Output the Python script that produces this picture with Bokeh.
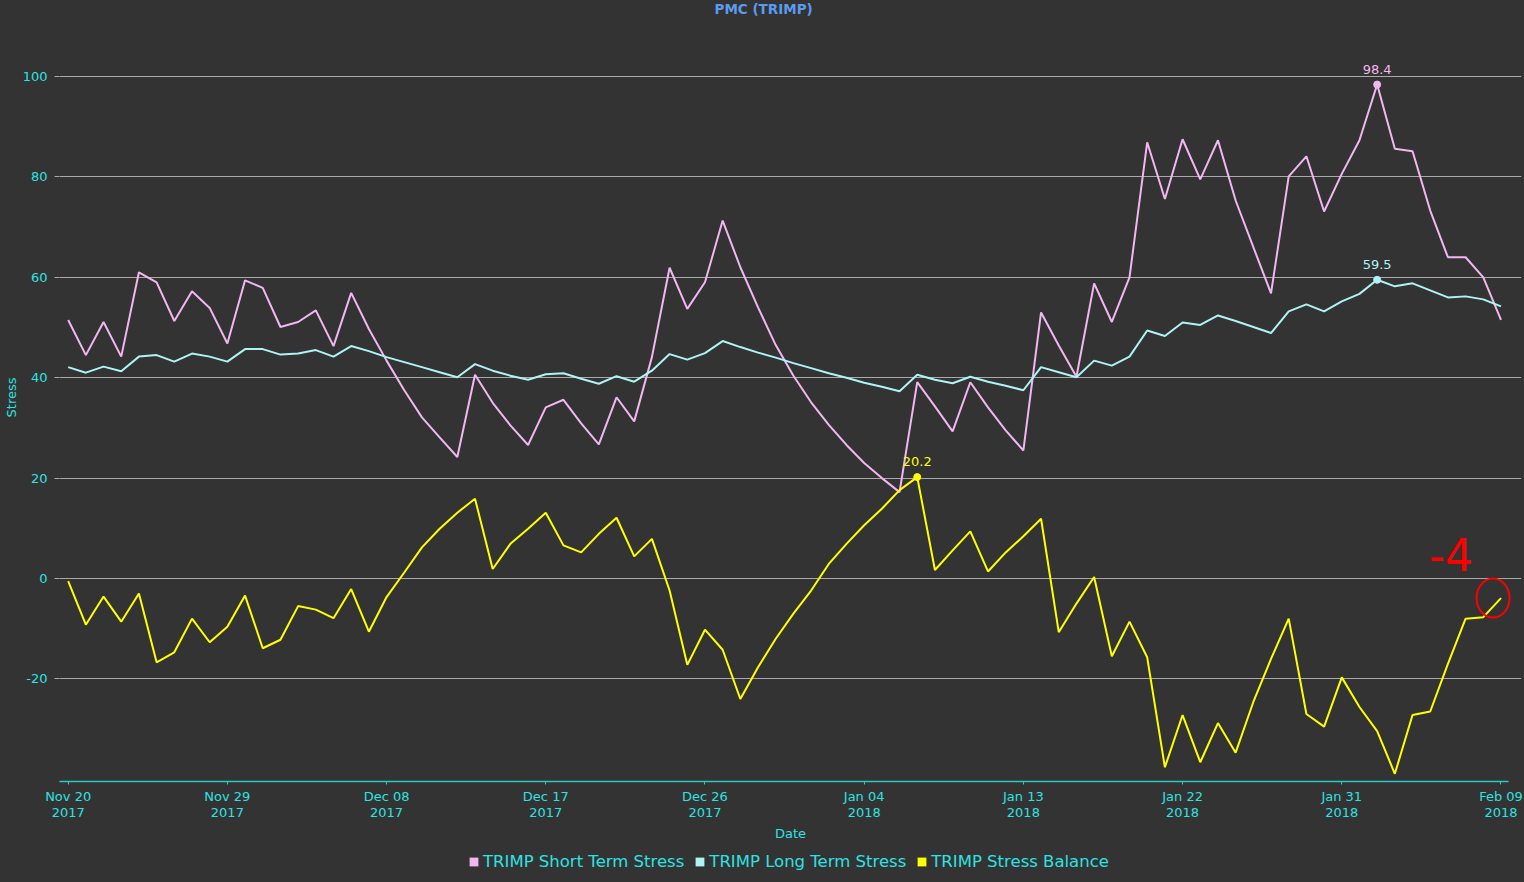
from datetime import datetime, timedelta

from bokeh.plotting import figure
from bokeh.layouts import column
from bokeh.models import (ColumnDataSource, FixedTicker, DatetimeTickFormatter,
                          PrintfTickFormatter, Range1d, Legend, LegendItem)
from bokeh.core.properties import value
from bokeh.embed import file_html
from bokeh.resources import INLINE

# ---------------- data ----------------
title_text = "PMC (TRIMP)"
x_label = "Date"
y_label = "Stress"
series_names = ["TRIMP Short Term Stress", "TRIMP Long Term Stress", "TRIMP Stress Balance"]
start_date = datetime(2017, 11, 20)

short_term = [51.5, 44.5, 51.1, 44.2, 61.0, 59.0, 51.3, 57.2, 53.9, 46.8,
              59.4, 57.9, 50.1, 51.1, 53.4, 46.3, 56.9, 49.7, 43.4, 37.5,
              32.1, 28.1, 24.2, 40.6, 35.0, 30.5, 26.6, 34.1, 35.6, 30.9,
              26.7, 36.1, 31.3, 44.1, 61.9, 53.7, 59.0, 71.3, 62.0, 54.0,
              46.5, 40.4, 35.1, 30.6, 26.6, 23.0, 20.0, 17.2, 39.1, 34.3,
              29.3, 39.1, 34.1, 29.5, 25.5, 53.0, 46.4, 40.2, 58.8, 51.1,
              60.0, 86.9, 75.6, 87.5, 79.5, 87.3, 75.3, 66.0, 56.8, 80.1,
              84.1, 73.1, 80.6, 87.3, 98.4, 85.6, 85.1, 73.3, 64.0, 64.0,
              60.0, 51.5]

long_term = [42.1, 41.0, 42.2, 41.3, 44.2, 44.5, 43.2, 44.8, 44.2, 43.2,
             45.7, 45.7, 44.6, 44.8, 45.5, 44.2, 46.3, 45.3, 44.1, 43.1,
             42.1, 41.1, 40.1, 42.7, 41.4, 40.4, 39.6, 40.7, 40.9, 39.8,
             38.8, 40.3, 39.2, 41.4, 44.7, 43.6, 44.9, 47.3, 46.1, 45.0,
             44.0, 42.9, 41.9, 40.9, 40.0, 39.0, 38.2, 37.3, 40.6, 39.6,
             38.9, 40.2, 39.2, 38.4, 37.5, 42.1, 41.1, 40.1, 43.4, 42.4,
             44.2, 49.4, 48.3, 51.0, 50.5, 52.4, 51.3, 50.1, 48.9, 53.2,
             54.6, 53.2, 55.2, 56.7, 59.5, 58.2, 58.8, 57.4, 56.0, 56.2,
             55.6, 54.2]

balance = [-0.5, -9.2, -3.6, -8.6, -3.0, -16.7, -14.7, -8.0, -12.7, -9.6,
           -3.4, -13.9, -12.2, -5.5, -6.2, -7.9, -2.1, -10.6, -3.7, 1.2,
           6.2, 9.9, 13.1, 15.9, 1.9, 6.9, 9.9, 13.1, 6.6, 5.2,
           8.9, 12.1, 4.4, 7.9, -2.4, -17.2, -10.2, -14.2, -24.0, -17.7,
           -12.0, -7.0, -2.4, 2.9, 6.9, 10.6, 13.9, 17.6, 20.2, 1.7,
           5.6, 9.4, 1.4, 5.2, 8.4, 11.9, -10.7, -5.0, 0.3, -15.5,
           -8.6, -15.7, -37.6, -27.2, -36.6, -28.8, -34.7, -24.6, -16.0, -8.0,
           -27.0, -29.5, -19.7, -25.6, -30.4, -38.9, -27.2, -26.5, -17.0, -8.0,
           -7.7, -3.9]

y_ticks = [-20, 0, 20, 40, 60, 80, 100]
x_tick_step_days = 9

# ---------------- styling ----------------
BG = "#333333"
CYAN = "#2ee2e2"
AXIS_CYAN = "#2cc8c8"
GRID = "#a9a9a9"
TITLE_BLUE = "#5b9bef"
COLORS = ["#f2b6f2", "#aef4f4", "#ffff00"]
FONT = "DejaVu Sans"
CSS_BG = {"background-color": BG}

dates = [start_date + timedelta(days=i) for i in range(len(short_term))]
day = timedelta(days=1)
EPOCH = datetime(1970, 1, 1)


def ms(d):
    return (d - EPOCH).total_seconds() * 1000.0


x_start = dates[0] - day * 0.49
x_end = dates[-1] + day * 1.16

p = figure(width=1524, height=846, x_axis_type="datetime",
           x_range=Range1d(x_start, x_end), y_range=Range1d(-40.44, 112.55),
           output_backend="svg", toolbar_location=None,
           min_border_left=58, min_border_right=3, min_border_top=13,
           min_border_bottom=65,
           background_fill_color=BG, border_fill_color=None)
p.outline_line_color = None
p.styles = CSS_BG

# title
p.title.text = title_text
p.title.align = "left"
p.title.offset = 655
p.title.standoff = -6
p.title.text_color = TITLE_BLUE
p.title.text_font = FONT
p.title.text_font_size = "13.5px"
p.title.text_font_style = "bold"

# x axis
xa = p.xaxis[0]
xa.ticker = FixedTicker(ticks=[ms(d) for d in dates[::x_tick_step_days]])
fmt = "%b %d\n%Y"
xa.formatter = DatetimeTickFormatter(days=fmt, months=fmt, years=fmt, hours=fmt)
xa.bounds = (ms(x_start), ms(dates[-1] + day * 0.43))
xa.axis_line_color = AXIS_CYAN
xa.axis_line_width = 1.5
xa.major_tick_out = 3
xa.major_tick_in = 0
xa.major_tick_line_color = AXIS_CYAN
xa.minor_tick_out = 0
xa.minor_tick_in = 0
xa.major_label_standoff = 4
xa.major_label_text_color = CYAN
xa.major_label_text_font = FONT
xa.major_label_text_font_size = "13px"
xa.major_label_text_line_height = 1.12
xa.axis_label = x_label
xa.axis_label_text_color = CYAN
xa.axis_label_text_font = FONT
xa.axis_label_text_font_size = "13px"
xa.axis_label_text_font_style = "normal"
xa.axis_label_standoff = 3

# y axis
ya = p.yaxis[0]
ya.ticker = FixedTicker(ticks=y_ticks)
ya.formatter = PrintfTickFormatter(format="%d")
ya.axis_line_color = None
ya.major_tick_out = 5
ya.major_tick_in = 0
ya.major_tick_line_color = GRID
ya.minor_tick_out = 0
ya.minor_tick_in = 0
ya.major_label_standoff = 7
ya.major_label_text_color = CYAN
ya.major_label_text_font = FONT
ya.major_label_text_font_size = "13px"
ya.axis_label = y_label
ya.axis_label_text_color = CYAN
ya.axis_label_text_font = FONT
ya.axis_label_text_font_size = "13px"
ya.axis_label_text_font_style = "normal"
ya.axis_label_standoff = 1

p.xgrid.visible = False
p.ygrid.grid_line_color = GRID
p.ygrid.grid_line_width = 1

# lines
src = ColumnDataSource(dict(date=dates, short=short_term, long=long_term, bal=balance))
cols = ["short", "long", "bal"]
series_vals = [short_term, long_term, balance]
for c, col in zip(cols, COLORS):
    p.line("date", c, source=src, line_color=col, line_width=2)

# legend strip below the chart (separate figure so it is not clipped)
lf = figure(width=1524, height=36, x_range=p.x_range, y_range=p.y_range,
            output_backend="svg", toolbar_location=None, min_border=0,
            x_axis_location=None, y_axis_location=None,
            background_fill_color=None, border_fill_color=None)
lf.outline_line_color = None
lf.grid.visible = False
lf.styles = CSS_BG

# maximum markers + labels; zero-area quads at the same points serve as legend swatches
items = []
for name, vals, col in zip(series_names, series_vals, COLORS):
    i = max(range(len(vals)), key=vals.__getitem__)
    p.scatter([dates[i]], [vals[i]], size=7, fill_color=col, line_color=col)
    p.text([dates[i]], [vals[i]], text=[f"{vals[i]:.1f}"], text_align="center",
           text_baseline="alphabetic", y_offset=-15.5, text_color=col,
           text_font=value(FONT), text_font_size="13px")
    sw = lf.quad(left=[dates[i]], right=[dates[i]], top=[vals[i]], bottom=[vals[i]],
                 fill_color=col, line_color=None)
    items.append(LegendItem(label=name, renderers=[sw]))

# hand-drawn style annotation around the last balance value
last_x = dates[-1]
last_y = balance[-1]
p.ellipse([last_x - day * 0.45], [last_y], width=33, height=39,
          width_units="screen", height_units="screen",
          fill_color=None, line_color="#ff0000", line_width=2)
p.text([last_x], [last_y], text=[f"{round(last_y)}"], text_align="right",
       text_baseline="alphabetic", x_offset=-28, y_offset=-44,
       text_color="#ff0000", text_font=value(FONT), text_font_size="44px",
       text_font_style="normal")

legend = Legend(items=items, orientation="horizontal", location=(409, 11),
                background_fill_alpha=0, border_line_color=None,
                label_text_color=CYAN, label_text_font=FONT,
                label_text_font_size="16.5px", glyph_width=11, glyph_height=11,
                label_standoff=4, spacing=10, padding=2, margin=0)
lf.add_layout(legend, "center")

layout = column(p, lf, spacing=0)
layout.styles = CSS_BG

html = file_html(layout, INLINE)
open("out.html", "w").write(html)
